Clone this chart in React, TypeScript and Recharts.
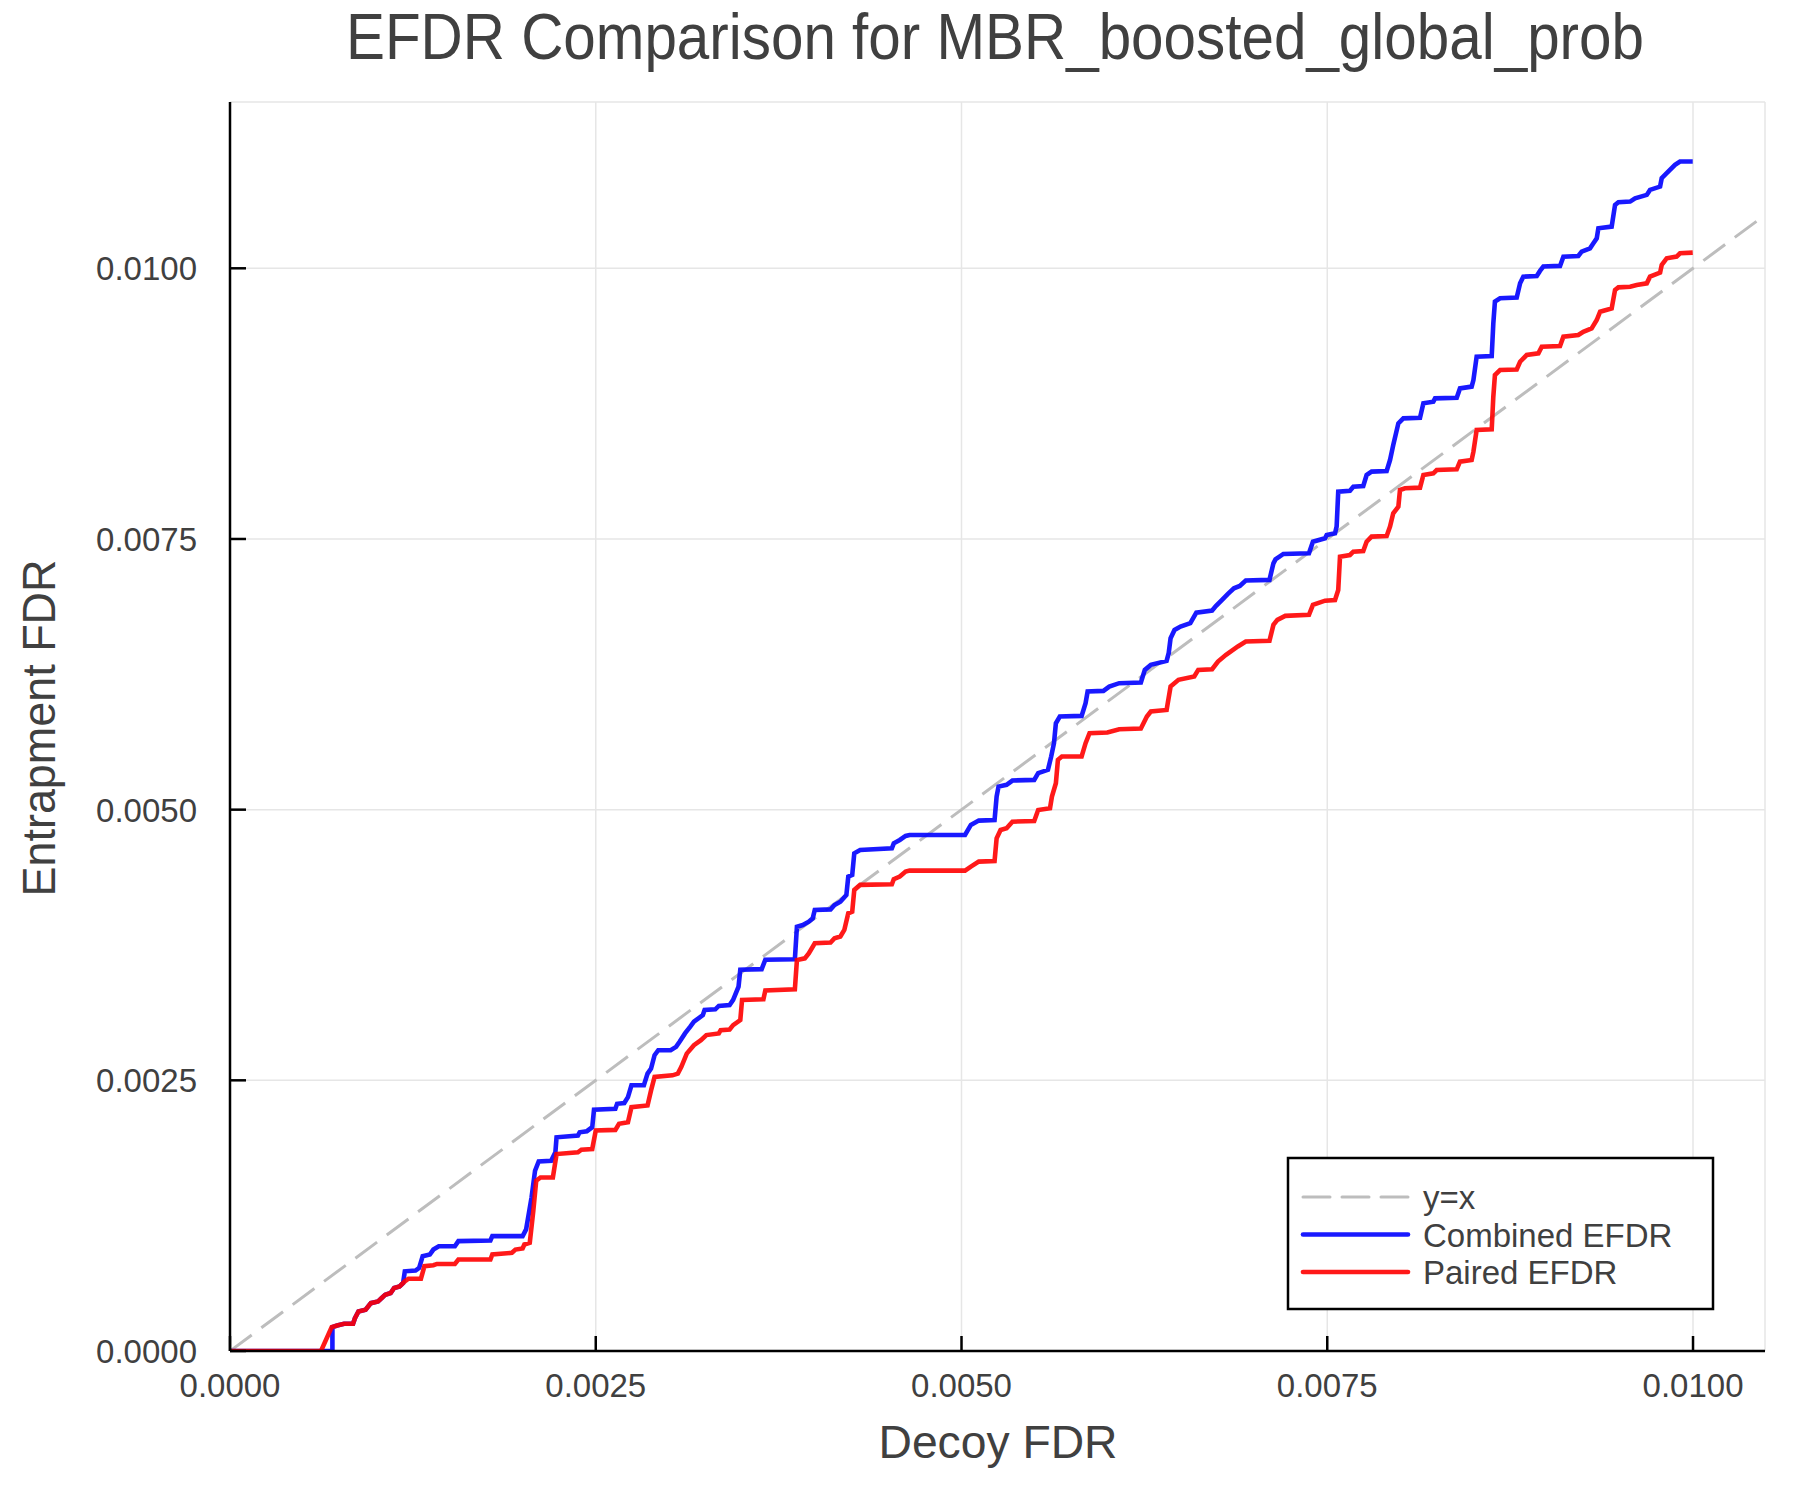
import React from 'react';
import { LineChart, Line, XAxis, YAxis, CartesianGrid } from 'recharts';

// ---------- data ----------
const chartTitle = 'EFDR Comparison for MBR_boosted_global_prob';
const xAxisLabel = 'Decoy FDR';
const yAxisLabel = 'Entrapment FDR';

const xTicks = [0, 0.0025, 0.005, 0.0075, 0.01];
const xTickLabels = ['0.0000', '0.0025', '0.0050', '0.0075', '0.0100'];
const yTicks = [0, 0.0025, 0.005, 0.0075, 0.01];
const yTickLabels = ['0.0000', '0.0025', '0.0050', '0.0075', '0.0100'];

const xDomain: [number, number] = [0, 0.010492];
const yDomain: [number, number] = [0, 0.011536];

const seriesNames = ['y=x', 'Combined EFDR', 'Paired EFDR'];

// y = x reference
const identityLine: [number, number][] = [
  [0, 0],
  [0.0105, 0.0105],
];

// Combined EFDR (decoy FDR, entrapment FDR)
const combinedEfdr: [number, number][] = [
  [0, 0], [0.0007, 0], [0.0007, 0.00022], [0.000732, 0.000235], [0.00078, 0.000251],
  [0.000841, 0.000251], [0.000854, 0.000303], [0.000878, 0.000365], [0.000927, 0.000381],
  [0.000963, 0.000442], [0.001012, 0.000458], [0.001037, 0.000489], [0.001061, 0.00052],
  [0.001098, 0.000535], [0.001122, 0.000582], [0.001159, 0.000597], [0.001183, 0.000628],
  [0.001195, 0.000736], [0.001268, 0.000743], [0.001293, 0.000767], [0.001317, 0.000876],
  [0.001366, 0.000891], [0.00139, 0.000937], [0.001427, 0.000968], [0.001537, 0.000968],
  [0.001561, 0.001015], [0.00178, 0.001021], [0.001793, 0.001061], [0.002, 0.001061],
  [0.002024, 0.001123], [0.002061, 0.001417], [0.002085, 0.001665], [0.00211, 0.001751],
  [0.002195, 0.001757], [0.002224, 0.001835], [0.002232, 0.001974], [0.002378, 0.001989],
  [0.00239, 0.00202], [0.002439, 0.00203], [0.002476, 0.002067], [0.002488, 0.002228],
  [0.002634, 0.002237], [0.002646, 0.002283], [0.002695, 0.00229], [0.00272, 0.002345],
  [0.002744, 0.002454], [0.002829, 0.002454], [0.002854, 0.002562], [0.002878, 0.002608],
  [0.002902, 0.002732], [0.002927, 0.002778], [0.003012, 0.002778], [0.003049, 0.002809],
  [0.003073, 0.002856], [0.00311, 0.002933], [0.003146, 0.002995], [0.003171, 0.003041],
  [0.003232, 0.003103], [0.003244, 0.00315], [0.003317, 0.003156], [0.003341, 0.003187],
  [0.003415, 0.003196], [0.003439, 0.003243], [0.003476, 0.003366], [0.003488, 0.003521],
  [0.003634, 0.003527], [0.003659, 0.003614], [0.003861, 0.003618], [0.003875, 0.003919],
  [0.003915, 0.003934], [0.003956, 0.003965], [0.003983, 0.003996], [0.003997, 0.004073],
  [0.004105, 0.004079], [0.004132, 0.004119], [0.004172, 0.00415], [0.004213, 0.004212],
  [0.004226, 0.004382], [0.004253, 0.004397], [0.004267, 0.004597], [0.004307, 0.004628],
  [0.004524, 0.004643], [0.004537, 0.004689], [0.004578, 0.00472], [0.004618, 0.004757],
  [0.004645, 0.004766], [0.005024, 0.004766], [0.005064, 0.004859], [0.005118, 0.004899],
  [0.005226, 0.004905], [0.00524, 0.005121], [0.005253, 0.005213], [0.005308, 0.005229],
  [0.005348, 0.005269], [0.005497, 0.005275], [0.005524, 0.005337], [0.005591, 0.005368],
  [0.005613, 0.005491], [0.005632, 0.005614], [0.005645, 0.005798], [0.005672, 0.00586],
  [0.005821, 0.005866], [0.005848, 0.005983], [0.005862, 0.006091], [0.00597, 0.006097],
  [0.00601, 0.006137], [0.006078, 0.006168], [0.006226, 0.006174], [0.006253, 0.006291],
  [0.006294, 0.006337], [0.006402, 0.006374], [0.006416, 0.006445], [0.006429, 0.006583],
  [0.006456, 0.00666], [0.006497, 0.006691], [0.006564, 0.006722], [0.006605, 0.00682],
  [0.006713, 0.006839], [0.00674, 0.006882], [0.006781, 0.006938], [0.006821, 0.006993],
  [0.006862, 0.007045], [0.006902, 0.007066], [0.006943, 0.007116], [0.007105, 0.007122],
  [0.007132, 0.007275], [0.007146, 0.007312], [0.0072, 0.007362], [0.007375, 0.007368],
  [0.007402, 0.007475], [0.007485, 0.007506], [0.007496, 0.007537], [0.007553, 0.007552],
  [0.007564, 0.007614], [0.007575, 0.007937], [0.007655, 0.007946], [0.007678, 0.007983],
  [0.007746, 0.007989], [0.007769, 0.008091], [0.007803, 0.008122], [0.007906, 0.008128],
  [0.007929, 0.008229], [0.007951, 0.008368], [0.007986, 0.008568], [0.00802, 0.008614],
  [0.008134, 0.00862], [0.008157, 0.008753], [0.008225, 0.008768], [0.008237, 0.008799],
  [0.008385, 0.008805], [0.008407, 0.008891], [0.008487, 0.008907], [0.008499, 0.008968],
  [0.008521, 0.009184], [0.008624, 0.00919], [0.008635, 0.009492], [0.008646, 0.009692],
  [0.008681, 0.009723], [0.008795, 0.009729], [0.008818, 0.009862], [0.00884, 0.009923],
  [0.008932, 0.009929], [0.008954, 0.009976], [0.008977, 0.010016], [0.009091, 0.010022],
  [0.009114, 0.010108], [0.009216, 0.010114], [0.009239, 0.010154], [0.009296, 0.010185],
  [0.009319, 0.010231], [0.009342, 0.010277], [0.009353, 0.01037], [0.009444, 0.010385],
  [0.009467, 0.010585], [0.00949, 0.01061], [0.00957, 0.010616], [0.009604, 0.010647],
  [0.009684, 0.010678], [0.009706, 0.010724], [0.009775, 0.010755], [0.009786, 0.010832],
  [0.00982, 0.010878], [0.009877, 0.010955], [0.009911, 0.010986], [0.009998, 0.010986],
];

// Paired EFDR (decoy FDR, entrapment FDR)
const pairedEfdr: [number, number][] = [
  [0, 0], [0.000622, 0], [0.000695, 0.00022], [0.000732, 0.000235], [0.00078, 0.000251],
  [0.000841, 0.000251], [0.000854, 0.000303], [0.000878, 0.000365], [0.000927, 0.000381],
  [0.000963, 0.000442], [0.001012, 0.000458], [0.001037, 0.000489], [0.001061, 0.00052],
  [0.001098, 0.000535], [0.001122, 0.000582], [0.001159, 0.000597], [0.001183, 0.000628],
  [0.001195, 0.000644], [0.00122, 0.000668], [0.001305, 0.000668], [0.001329, 0.000783],
  [0.00139, 0.000792], [0.001415, 0.000804], [0.001537, 0.000804], [0.001561, 0.000845],
  [0.00178, 0.000845], [0.001793, 0.000891], [0.001927, 0.000907], [0.001951, 0.000937],
  [0.002, 0.000947], [0.002012, 0.000984], [0.002049, 0.000999], [0.002073, 0.001293],
  [0.002093, 0.001572], [0.002122, 0.001603], [0.002207, 0.001603], [0.002232, 0.001819],
  [0.002378, 0.001835], [0.002402, 0.001859], [0.002476, 0.001866], [0.0025, 0.002036],
  [0.002634, 0.002042], [0.002659, 0.002098], [0.00272, 0.002113], [0.002744, 0.002252],
  [0.002854, 0.002268], [0.002878, 0.002407], [0.002902, 0.002531], [0.003024, 0.002546],
  [0.003061, 0.002562], [0.003085, 0.002624], [0.003122, 0.002747], [0.003171, 0.002825],
  [0.003219, 0.002871], [0.003256, 0.002918], [0.003341, 0.002933], [0.003354, 0.002964],
  [0.003415, 0.00297], [0.003439, 0.00301], [0.003488, 0.003057], [0.0035, 0.003243],
  [0.003646, 0.003249], [0.003659, 0.003329], [0.003861, 0.00334], [0.003875, 0.003611],
  [0.003929, 0.003627], [0.003956, 0.003673], [0.003997, 0.003766], [0.004105, 0.003772],
  [0.004132, 0.003812], [0.004172, 0.003828], [0.004199, 0.003889], [0.004226, 0.004043],
  [0.004253, 0.004058], [0.004267, 0.004258], [0.004307, 0.004305], [0.004524, 0.004311],
  [0.004537, 0.004357], [0.004578, 0.004382], [0.004618, 0.004428], [0.004645, 0.004437],
  [0.005024, 0.004437], [0.005064, 0.004474], [0.005118, 0.00452], [0.005226, 0.004526],
  [0.00524, 0.004735], [0.005267, 0.004812], [0.005308, 0.004828], [0.005348, 0.004889],
  [0.005497, 0.004895], [0.005524, 0.004997], [0.005605, 0.005013], [0.005618, 0.005121],
  [0.005645, 0.005244], [0.005659, 0.00546], [0.005686, 0.005491], [0.005821, 0.005491],
  [0.005848, 0.005614], [0.005875, 0.005706], [0.005997, 0.005712], [0.006078, 0.005743],
  [0.006226, 0.005749], [0.006267, 0.00586], [0.006294, 0.005906], [0.006402, 0.005921],
  [0.006429, 0.006137], [0.006483, 0.006199], [0.006591, 0.00623], [0.006618, 0.006291],
  [0.006713, 0.006297], [0.006753, 0.006368], [0.006808, 0.00643], [0.006889, 0.006507],
  [0.006943, 0.006553], [0.007105, 0.006559], [0.007132, 0.006707], [0.007159, 0.006753],
  [0.007213, 0.00679], [0.007375, 0.006799], [0.007402, 0.006892], [0.007485, 0.00693],
  [0.007553, 0.006936], [0.007575, 0.007029], [0.007587, 0.007337], [0.007655, 0.007352],
  [0.007678, 0.007383], [0.007746, 0.007389], [0.007769, 0.007475], [0.007803, 0.007522],
  [0.007906, 0.007528], [0.007929, 0.007614], [0.007951, 0.007737], [0.007986, 0.007798],
  [0.007997, 0.007952], [0.008031, 0.007968], [0.008134, 0.007974], [0.008157, 0.008091],
  [0.008225, 0.008106], [0.008248, 0.008137], [0.008385, 0.008143], [0.008407, 0.008214],
  [0.008487, 0.008229], [0.008499, 0.008306], [0.008521, 0.008506], [0.008624, 0.008512],
  [0.008635, 0.008814], [0.008646, 0.009014], [0.008681, 0.00906], [0.008795, 0.009066],
  [0.008818, 0.009137], [0.008863, 0.009199], [0.008943, 0.009214], [0.008966, 0.009276],
  [0.009091, 0.009282], [0.009114, 0.009368], [0.009216, 0.009384], [0.00925, 0.009414],
  [0.009307, 0.009445], [0.009342, 0.009522], [0.009365, 0.009599], [0.009444, 0.00963],
  [0.009467, 0.0098], [0.00949, 0.009824], [0.00957, 0.00983], [0.009615, 0.009846],
  [0.009684, 0.009861], [0.009706, 0.009923], [0.009775, 0.00996], [0.009786, 0.010031],
  [0.00982, 0.010092], [0.009888, 0.010108], [0.009911, 0.010139], [0.009998, 0.010145],
];

// ---------- styles ----------
const FONT = '"Liberation Sans", Arial, Helvetica, sans-serif';
const TEXT = '#404040';
const BLUE = '#0000ff';
const RED = '#ff0000';
const GREY = '#bdbdbd';

const toRows = (pts: [number, number][]) => pts.map(([x, y]) => ({ x, y }));
const identityRows = toRows(identityLine);
const combinedRows = toRows(combinedEfdr);
const pairedRows = toRows(pairedEfdr);

const W = 1800;
const H = 1500;
const M = { top: 102, right: 35, left: 0, bottom: 0 };
const Y_AXIS_W = 230;
const X_AXIS_H = 149;
const SERIES_W = 4.6;

const XTick = (props: any) => {
  const { x, y, payload } = props;
  const i = xTicks.indexOf(payload.value);
  const label = i >= 0 ? xTickLabels[i] : String(payload.value);
  return (
    <g>
      <line x1={x} x2={x} y1={y} y2={y - 15} stroke="#000" strokeWidth={2.5} />
      <text x={x} y={y + 46} textAnchor="middle" fontSize={33} fill={TEXT} fontFamily={FONT}>
        {label}
      </text>
    </g>
  );
};

const YTick = (props: any) => {
  const { x, y, payload } = props;
  const i = yTicks.indexOf(payload.value);
  const label = i >= 0 ? yTickLabels[i] : String(payload.value);
  return (
    <g>
      <line x1={x} x2={x + 16} y1={y} y2={y} stroke="#000" strokeWidth={2.5} />
      <text x={x - 33} y={y + 12} textAnchor="end" fontSize={33} fill={TEXT} fontFamily={FONT}>
        {label}
      </text>
    </g>
  );
};

const legendStyles = [
  { color: GREY, dash: '27 12', width: 3 },
  { color: BLUE, dash: undefined, width: SERIES_W },
  { color: RED, dash: undefined, width: SERIES_W },
];

export default function App() {
  return (
    <div style={{ position: 'absolute', left: 0, top: 0, width: W, height: H, background: '#fff' }}>
      <div style={{ position: 'absolute', left: 0, top: 0 }}>
        <LineChart width={W} height={H} margin={M}>
          <CartesianGrid stroke="#e6e6e6" strokeWidth={1.5} />
          <XAxis
            type="number"
            dataKey="x"
            domain={xDomain}
            ticks={xTicks}
            allowDataOverflow
            height={X_AXIS_H}
            tickSize={0}
            tickMargin={0}
            tickLine={false}
            tick={<XTick />}
            axisLine={{ stroke: '#000', strokeWidth: 2.5 }}
            interval={0}
          />
          <YAxis
            type="number"
            dataKey="y"
            domain={yDomain}
            ticks={yTicks}
            allowDataOverflow
            width={Y_AXIS_W}
            tickSize={0}
            tickMargin={0}
            tickLine={false}
            tick={<YTick />}
            axisLine={{ stroke: '#000', strokeWidth: 2.5 }}
            interval={0}
          />
          <Line
            data={identityRows}
            dataKey="y"
            type="linear"
            stroke={GREY}
            strokeWidth={3}
            strokeDasharray="27 12"
            dot={false}
            activeDot={false}
            isAnimationActive={false}
            name={seriesNames[0]}
          />
          <Line
            data={combinedRows}
            dataKey="y"
            type="linear"
            stroke={BLUE}
            strokeOpacity={0.9}
            strokeWidth={SERIES_W}
            dot={false}
            activeDot={false}
            isAnimationActive={false}
            name={seriesNames[1]}
          />
          <Line
            data={pairedRows}
            dataKey="y"
            type="linear"
            stroke={RED}
            strokeOpacity={0.9}
            strokeWidth={SERIES_W}
            dot={false}
            activeDot={false}
            isAnimationActive={false}
            name={seriesNames[2]}
          />
        </LineChart>
      </div>
      <svg
        width={W}
        height={H}
        style={{ position: 'absolute', left: 0, top: 0, pointerEvents: 'none' }}
      >
        <text
          x={995}
          y={58.5}
          textAnchor="middle"
          fontSize={64}
          fill={TEXT}
          fontFamily={FONT}
          textLength={1298}
          lengthAdjust="spacingAndGlyphs"
        >
          {chartTitle}
        </text>
        <text
          x={998}
          y={1458}
          textAnchor="middle"
          fontSize={47}
          fill={TEXT}
          fontFamily={FONT}
          textLength={239}
          lengthAdjust="spacingAndGlyphs"
        >
          {xAxisLabel}
        </text>
        <text
          transform="translate(55,728) rotate(-90)"
          textAnchor="middle"
          fontSize={47}
          fill={TEXT}
          fontFamily={FONT}
          textLength={337}
          lengthAdjust="spacingAndGlyphs"
        >
          {yAxisLabel}
        </text>
        <g>
          <rect x={1288} y={1158} width={425} height={151} fill="#fff" stroke="#000" strokeWidth={2.5} />
          {seriesNames.map((name, i) => {
            const cy = 1197 + i * 37.5;
            const s = legendStyles[i];
            return (
              <g key={name}>
                <line
                  x1={1303}
                  x2={1408}
                  y1={cy}
                  y2={cy}
                  stroke={s.color}
                  strokeOpacity={i === 0 ? 1 : 0.9}
                  strokeWidth={s.width}
                  strokeDasharray={s.dash}
                  strokeLinecap="round"
                />
                <text x={1423} y={cy + 12} fontSize={33} fill={TEXT} fontFamily={FONT}>
                  {name}
                </text>
              </g>
            );
          })}
        </g>
      </svg>
    </div>
  );
}
